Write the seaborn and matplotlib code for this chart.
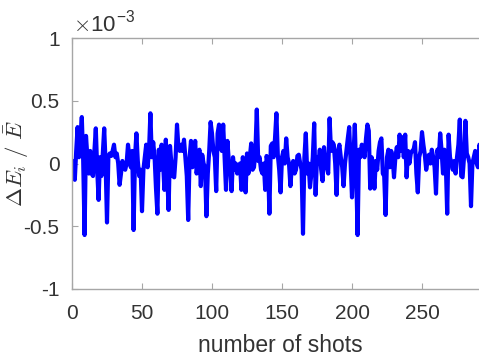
import numpy as np
import pandas as pd
import matplotlib
matplotlib.use("Agg")
import matplotlib.pyplot as plt
import seaborn as sns
from matplotlib.ticker import FuncFormatter

# Relative energy deviation per shot (in units of 1e-3)
dev_0_49 = [0.00, 0.02, -0.13, 0.10, 0.29, 0.05, 0.20, 0.37, 0.02, -0.57,
            0.22, 0.05, -0.08, 0.10, -0.08, -0.10, 0.10, 0.28, -0.05, -0.29,
            0.05, -0.10, 0.08, 0.28, 0.00, -0.47, 0.06, 0.08, 0.06, 0.10,
            0.15, 0.05, 0.08, 0.00, -0.17, -0.08, 0.02, -0.02, -0.05, 0.00,
            0.15, 0.05, -0.03, 0.10, -0.53, 0.05, 0.24, 0.02, -0.10, -0.05]
dev_50_99 = [-0.38, -0.05, 0.05, 0.15, -0.03, 0.10, 0.40, 0.05, 0.17, 0.05,
             -0.20, -0.40, 0.11, -0.05, 0.15, 0.02, -0.21, 0.19, -0.10, -0.37,
             0.14, 0.00, -0.10, -0.11, 0.05, 0.31, 0.13, 0.10, 0.15, 0.10,
             0.19, 0.05, -0.10, -0.45, 0.05, 0.18, -0.03, 0.05, 0.18, -0.08,
             0.00, 0.11, -0.18, 0.07, 0.00, -0.03, -0.42, -0.08, 0.10, 0.33]
dev_100_149 = [0.24, 0.10, 0.05, -0.22, 0.24, 0.31, 0.15, 0.10, 0.31, 0.05,
               -0.21, 0.18, 0.02, -0.05, -0.22, 0.05, -0.05, 0.00, -0.08, -0.03,
               0.00, -0.21, 0.05, -0.05, -0.23, 0.08, -0.08, 0.05, 0.16, -0.05,
               -0.03, 0.10, 0.43, 0.02, 0.05, -0.05, -0.08, 0.00, -0.21, 0.06,
               0.00, -0.40, 0.14, 0.16, 0.05, 0.20, 0.40, 0.07, -0.05, -0.23]
dev_150_199 = [0.05, 0.10, 0.00, 0.20, 0.05, 0.00, -0.18, -0.03, 0.02, -0.08,
               -0.05, 0.06, 0.07, 0.00, -0.05, -0.56, 0.05, 0.24, -0.08, 0.00,
               -0.19, -0.08, 0.05, 0.32, -0.25, 0.05, 0.00, 0.11, -0.05, -0.14,
               0.13, 0.00, -0.03, -0.08, 0.36, 0.10, 0.17, 0.15, 0.00, -0.25,
               0.10, 0.15, 0.05, -0.03, -0.18, 0.00, 0.10, 0.20, 0.29, 0.00]
dev_200_249 = [-0.27, 0.05, 0.31, -0.08, -0.57, 0.11, 0.05, 0.15, 0.10, 0.05,
               0.20, 0.31, 0.26, -0.20, 0.05, 0.00, -0.20, 0.02, -0.05, 0.10,
               0.17, 0.20, -0.08, -0.10, -0.41, 0.05, 0.11, -0.03, 0.10, 0.05,
               -0.11, 0.05, 0.13, 0.05, 0.23, 0.10, 0.21, 0.05, 0.23, -0.11,
               0.10, 0.00, 0.08, 0.10, 0.11, 0.17, -0.08, -0.23, 0.05, 0.10]
dev_250_292 = [0.25, 0.15, 0.07, -0.05, 0.02, 0.07, 0.00, 0.11, 0.05, -0.03,
               -0.24, 0.11, 0.05, 0.24, 0.10, -0.08, 0.11, 0.00, -0.40, 0.23,
               0.05, 0.00, -0.05, 0.02, -0.08, 0.05, 0.15, 0.35, -0.10, -0.11,
               0.05, 0.34, 0.08, 0.05, 0.00, -0.34, 0.00, 0.05, 0.10, 0.00,
               -0.03, 0.15, 0.10]

deviation = dev_0_49 + dev_50_99 + dev_100_149 + dev_150_199 + dev_200_249 + dev_250_292
shots = list(range(len(deviation)))

x_ticks = [0, 50, 100, 150, 200, 250]
y_ticks = [-1, -0.5, 0, 0.5, 1]

df = pd.DataFrame({"shot": shots, "dev": deviation})

sns.set_theme(style="white")
plt.rcParams["font.family"] = ["Liberation Sans", "DejaVu Sans"]
plt.rcParams["mathtext.fontset"] = "cm"
plt.rcParams["axes.unicode_minus"] = False

fig = plt.figure(figsize=(4.79, 3.60), dpi=100)
W, H = 479, 360
left, right, top, bottom = 72, 492, 38, 289
ax = fig.add_axes([left / W, 1 - bottom / H, (right - left) / W, (bottom - top) / H])

sns.lineplot(data=df, x="shot", y="dev", ax=ax, color="#0000ff", linewidth=3.0,
             estimator=None, legend=False)

ax.set_xlim(0, 300)
ax.set_ylim(-1, 1)
ax.set_xticks(x_ticks)
ax.set_yticks(y_ticks)
ax.yaxis.set_major_formatter(FuncFormatter(lambda v, p: "%g" % v))
ax.xaxis.set_major_formatter(FuncFormatter(lambda v, p: "%g" % v))

spine_col = "#a6a6a6"
for s in ["left", "bottom", "top"]:
    ax.spines[s].set_visible(True)
    ax.spines[s].set_color(spine_col)
    ax.spines[s].set_linewidth(1.0)
ax.spines["right"].set_visible(False)

ax.tick_params(axis="both", which="major", direction="in", length=4, width=0.8,
               color=spine_col, labelsize=15, labelcolor="#333333",
               top=True, bottom=True, left=True, right=False)
ax.tick_params(axis="x", pad=11)
ax.tick_params(axis="y", pad=9)

ax.set_xlabel("number of shots", fontsize=16.5, color="#333333")
ax.set_ylabel(r"$\Delta E_i\ /\ \bar{E}$", fontsize=16.5, color="#333333")
ax.xaxis.set_label_coords(0.497, -0.178)
ax.yaxis.set_label_coords(-0.097, 0.5)

fig.text(73 / W, 1 - 33 / H, r"$\times$10$^{\mathregular{-3}}$", fontsize=16,
         color="#333333", ha="left", va="baseline")

fig.savefig("out.png", dpi=100)
